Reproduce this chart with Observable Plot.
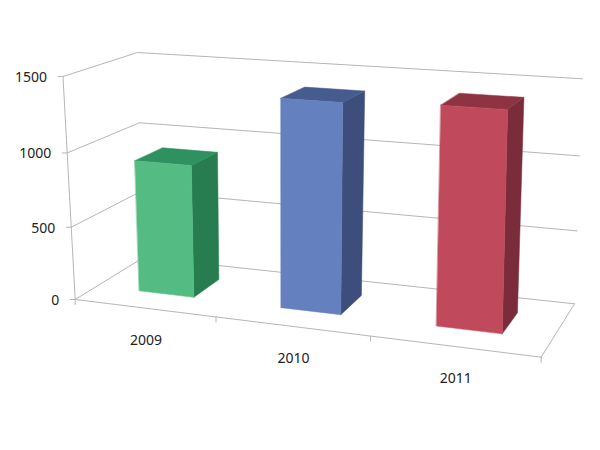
<!DOCTYPE html>
<html>
<head>
<meta charset="utf-8">
<script src="https://cdn.jsdelivr.net/npm/d3@7"></script>
<script src="https://cdn.jsdelivr.net/npm/@observablehq/plot@0.6"></script>
<style>
html,body{margin:0;padding:0;background:#fff}
svg{display:block}
</style>
</head>
<body>
<div id="chart"></div>
<script>
const categories = ["2009", "2010", "2011"];
const values = [905, 1390, 1415];
const valueTicks = [0, 500, 1000, 1500];
const frontColors = ["#54bc82", "#6480be", "#c04a5c"];
const sideColors = ["#277d50", "#3d4e7c", "#7a2c3a"];
const topColors = ["#2f9160", "#465c8e", "#8e3342"];
const gridColor = "#b8b5b2";

// Camera: floor and 1500-level planes as seen in the picture (FL, FR, BR, BL).
const floorQuad = [[74.7, 299], [540.7, 356.7], [574, 303.3], [143, 257]];
const ceilQuad = [[62.5, 76], [546, 108], [582, 78.3], [137, 52]];
const barHalfWidth = 0.066, barShift = 0.004, depthFront = 0.305, depthBack = 0.71, perspective = 0.043;

function quadMap([[x0, y0], [x1, y1], [x2, y2], [x3, y3]]) {
  const dx1 = x1 - x2, dx2 = x3 - x2, sx = x0 - x1 + x2 - x3;
  const dy1 = y1 - y2, dy2 = y3 - y2, sy = y0 - y1 + y2 - y3;
  const det = dx1 * dy2 - dx2 * dy1;
  const g = (sx * dy2 - dx2 * sy) / det, h = (dx1 * sy - sx * dy1) / det;
  const a = x1 - x0 + g * x1, b = x3 - x0 + h * x3;
  const d = y1 - y0 + g * y1, e = y3 - y0 + h * y3;
  return (u, v) => {
    const w = g * u + h * v + 1;
    return [(a * u + b * v + x0) / w, (d * u + e * v + y0) / w];
  };
}
const floorMap = quadMap(floorQuad), ceilMap = quadMap(ceilQuad);
const valueMax = d3.max(valueTicks);
function project(u, depth, value) {
  const t = value / valueMax;
  const k = t / (1 + perspective * (1 - t));
  const p = floorMap(u, depth), q = ceilMap(u, depth);
  return [p[0] + (q[0] - p[0]) * k, p[1] + (q[1] - p[1]) * k];
}
const pt = (id, u, depth, value, color) => {
  const [px, py] = project(u, depth, value);
  return {id, px, py, color};
};

// Bars as three faces each
const faces = [];
categories.forEach((c, i) => {
  const uc = (i + 0.5) / categories.length + barShift;
  const u0 = uc - barHalfWidth, u1 = uc + barHalfWidth;
  const v = values[i];
  const poly = (name, color, corners) =>
    corners.forEach(([u, dp, val]) => faces.push(pt(c + name, u, dp, val, color)));
  poly("side", sideColors[i], [[u1, depthFront, 0], [u1, depthBack, 0], [u1, depthBack, v], [u1, depthFront, v]]);
  poly("top", topColors[i], [[u0, depthFront, v], [u1, depthFront, v], [u1, depthBack, v], [u0, depthBack, v]]);
  poly("front", frontColors[i], [[u0, depthFront, 0], [u1, depthFront, 0], [u1, depthFront, v], [u0, depthFront, v]]);
});

// Walls, floor, axes, ticks
const lines = [];
valueTicks.forEach(v => {
  lines.push(pt("g" + v, 0, 0, v), pt("g" + v, 0, 1, v), pt("g" + v, 1, 1, v));
  const [ax, ay] = project(0, 0, v);
  lines.push({id: "yt" + v, px: ax - 5, py: ay}, {id: "yt" + v, px: ax, py: ay});
});
lines.push(pt("yaxis", 0, 0, 0), pt("yaxis", 0, 0, valueMax));
lines.push(pt("floor", 0, 0, 0), pt("floor", 1, 0, 0), pt("floor", 1, 1, 0));
d3.range(categories.length + 1).forEach(i => {
  const [ax, ay] = project(i / categories.length, 0, 0);
  lines.push({id: "xt" + i, px: ax, py: ay}, {id: "xt" + i, px: ax, py: ay + 5});
});

const yearLabels = categories.map((c, i) => {
  const [px, py] = project((i + 0.5) / categories.length, 0, 0);
  return {label: c, px, py};
});
const valueLabels = valueTicks.map(v => {
  const [px, py] = project(0, 0, v);
  return {label: String(v), px, py};
});

const chart = Plot.plot({
  width: 600, height: 450,
  margin: 0,
  x: {domain: [0, 600], range: [0, 600], axis: null},
  y: {domain: [0, 450], range: [0, 450], axis: null},
  style: {background: "#fff", fontFamily: "'Noto Sans', sans-serif"},
  marks: [
    Plot.line(lines, {x: "px", y: "py", z: "id", stroke: gridColor, strokeWidth: 1}),
    Plot.line(faces, {x: "px", y: "py", z: "id", fill: "color", stroke: "color", strokeWidth: 0.5, curve: "linear-closed"}),
    Plot.text(valueLabels, {x: "px", y: "py", text: "label", textAnchor: "end", dx: -16, dy: 1, fontSize: 14, fill: "#222"}),
    Plot.text(yearLabels, {x: "px", y: "py", text: "label", dx: 2, dy: 32, fontSize: 14, fill: "#222"})
  ]
});
document.getElementById("chart").append(chart);
</script>
</body>
</html>
